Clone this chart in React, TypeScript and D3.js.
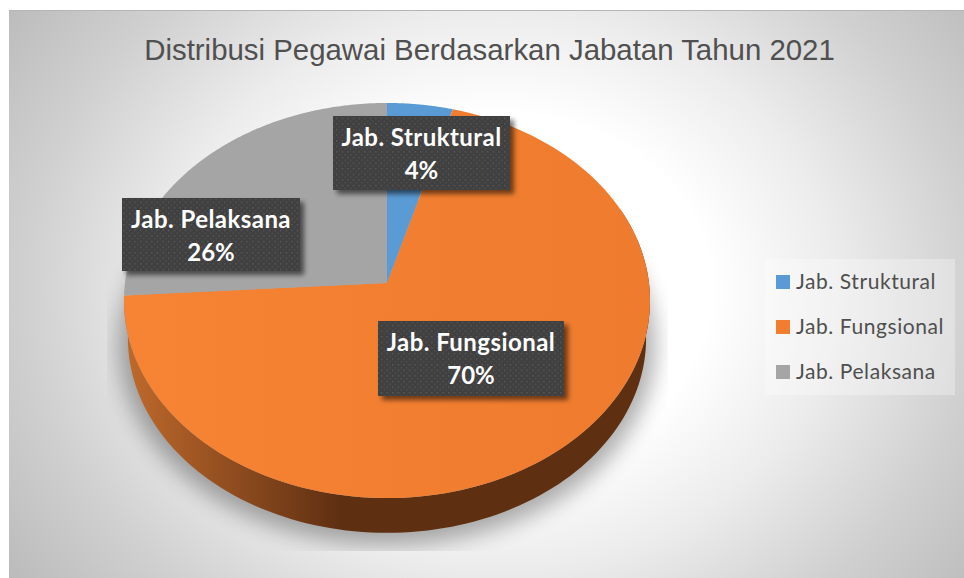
import React from "react";
import * as d3 from "d3";

const categories = ["Jab. Struktural", "Jab. Fungsional", "Jab. Pelaksana"];
const values = [4.4, 69.6, 26];
const percentLabels = ["4%", "70%", "26%"];
const colors = ["#5b9bd5", "#f27d30", "#a5a5a5"];
const titleText = "Distribusi Pegawai Berdasarkan Jabatan Tahun 2021";
const labelBoxes = [
  { x: 333, y: 116, w: 177, h: 74 },
  { x: 378, y: 321, w: 186, h: 75 },
  { x: 122, y: 198, w: 178, h: 73 },
];

const cx = 387, cy = 283, A = 262, B = 196, K = 0.0886, DEPTH = 38, DS = 0.985;

function rim(angle: number, d = 0, s = 1): [number, number] {
  const u = Math.sin(angle), v = -Math.cos(angle);
  const w = 1 - K * v;
  return [cx + (A * u * s) / w, cy + (B * v * s) / w + d];
}

const line = d3.line<[number, number]>().x((p) => p[0]).y((p) => p[1]);

function samples(a0: number, a1: number, n = 120) {
  return d3.range(n + 1).map((i) => a0 + ((a1 - a0) * i) / n);
}

function slicePath(a0: number, a1: number) {
  const pts: [number, number][] = [[cx, cy], ...samples(a0, a1).map((a) => rim(a))];
  return line(pts) + "Z";
}

function sidePath(a0: number, a1: number) {
  const top = samples(a0, a1).map((a) => rim(a));
  const bottom = samples(a1, a0).map((a) => rim(a, DEPTH, DS));
  return line([...top, ...bottom]) + "Z";
}

export default function App() {
  const arcs = d3.pie<number>().sort(null).startAngle(0).endAngle(2 * Math.PI)(values);
  const orange = arcs[1];
  return (
    <svg width={964} height={578} style={{ position: "absolute", left: 0, top: 0, display: "block" }}>
      <defs>
        <radialGradient id="bg" gradientUnits="userSpaceOnUse" cx={0} cy={0} r={600} gradientTransform="translate(500 290) scale(1 0.833)">
          <stop offset="0" stopColor="#ffffff" />
          <stop offset="0.35" stopColor="#ffffff" />
          <stop offset="0.56" stopColor="#ececec" />
          <stop offset="0.79" stopColor="#d0d0d0" />
          <stop offset="1" stopColor="#bbbbbb" />
        </radialGradient>
        <linearGradient id="side" gradientUnits="userSpaceOnUse" x1={124} y1={0} x2={340} y2={0}>
          <stop offset="0" stopColor="#c06a2c" />
          <stop offset="1" stopColor="#5f2f12" />
        </linearGradient>
        <linearGradient id="topFill" gradientUnits="userSpaceOnUse" x1={124} y1={0} x2={650} y2={0}>
          <stop offset="0" stopColor="#f78334" />
          <stop offset="1" stopColor="#ee7b2e" />
        </linearGradient>
        <filter id="blur" x="-20%" y="-20%" width="140%" height="140%">
          <feGaussianBlur stdDeviation="11" />
        </filter>
        <filter id="boxShadow" x="-20%" y="-30%" width="140%" height="160%">
          <feGaussianBlur stdDeviation="2.5" />
        </filter>
        <clipPath id="shadowClip">
          <rect x={107} y={200} width={561} height={351} />
        </clipPath>
        <pattern id="dots" width={5.6} height={5.6} patternUnits="userSpaceOnUse">
          <rect width={5.6} height={5.6} fill="#404040" />
          <rect x={0} y={0} width={1.4} height={1.4} fill="#5a5a5a" />
          <rect x={2.8} y={2.8} width={1.4} height={1.4} fill="#505050" />
        </pattern>
      </defs>
      <rect x={9} y={10} width={955} height={568} fill="url(#bg)" />
      <rect x={9} y={10} width={955} height={1} fill="#b5b5b5" />
      <text x={489.5} y={60} textAnchor="middle" fontFamily="Liberation Sans" fontSize={29.4} fill="#505050">
        {titleText}
      </text>

      <g clipPath="url(#shadowClip)">
        <ellipse cx={387} cy={345} rx={268} ry={200} fill="#000" opacity={0.32} filter="url(#blur)" />
      </g>

      <path d={sidePath(Math.PI / 2 - 0.4, orange.endAngle)} fill="url(#side)" />
      {arcs.map((a, i) => (
        <path key={i} d={slicePath(a.startAngle, a.endAngle)} fill={i === 1 ? "url(#topFill)" : colors[i]} />
      ))}

      {labelBoxes.map((b, i) => (
        <g key={i}>
          <rect x={b.x + 4} y={b.y + 4} width={b.w} height={b.h} fill="#000" opacity={0.55} filter="url(#boxShadow)" />
          <rect x={b.x} y={b.y} width={b.w} height={b.h} fill="url(#dots)" />
          <text x={b.x + b.w / 2} y={b.y + 30} textAnchor="middle" fontFamily="Lato" fontWeight={700} fontSize={24} letterSpacing={0.45} fill="#fff">
            {categories[i]}
          </text>
          <text x={b.x + b.w / 2} y={b.y + 63} textAnchor="middle" fontFamily="Lato" fontWeight={700} fontSize={24} fill="#fff">
            {percentLabels[i]}
          </text>
        </g>
      ))}

      <rect x={765} y={259} width={190} height={136} fill="#fff" opacity={0.3} />
      {categories.map((c, i) => (
        <g key={c}>
          <rect x={776} y={275 + i * 45} width={14} height={14} fill={colors[i]} />
          <text x={796} y={289 + i * 45} fontFamily="Lato" fontSize={21} letterSpacing={0.57} fill="#4f4f4f">
            {c}
          </text>
        </g>
      ))}
    </svg>
  );
}
